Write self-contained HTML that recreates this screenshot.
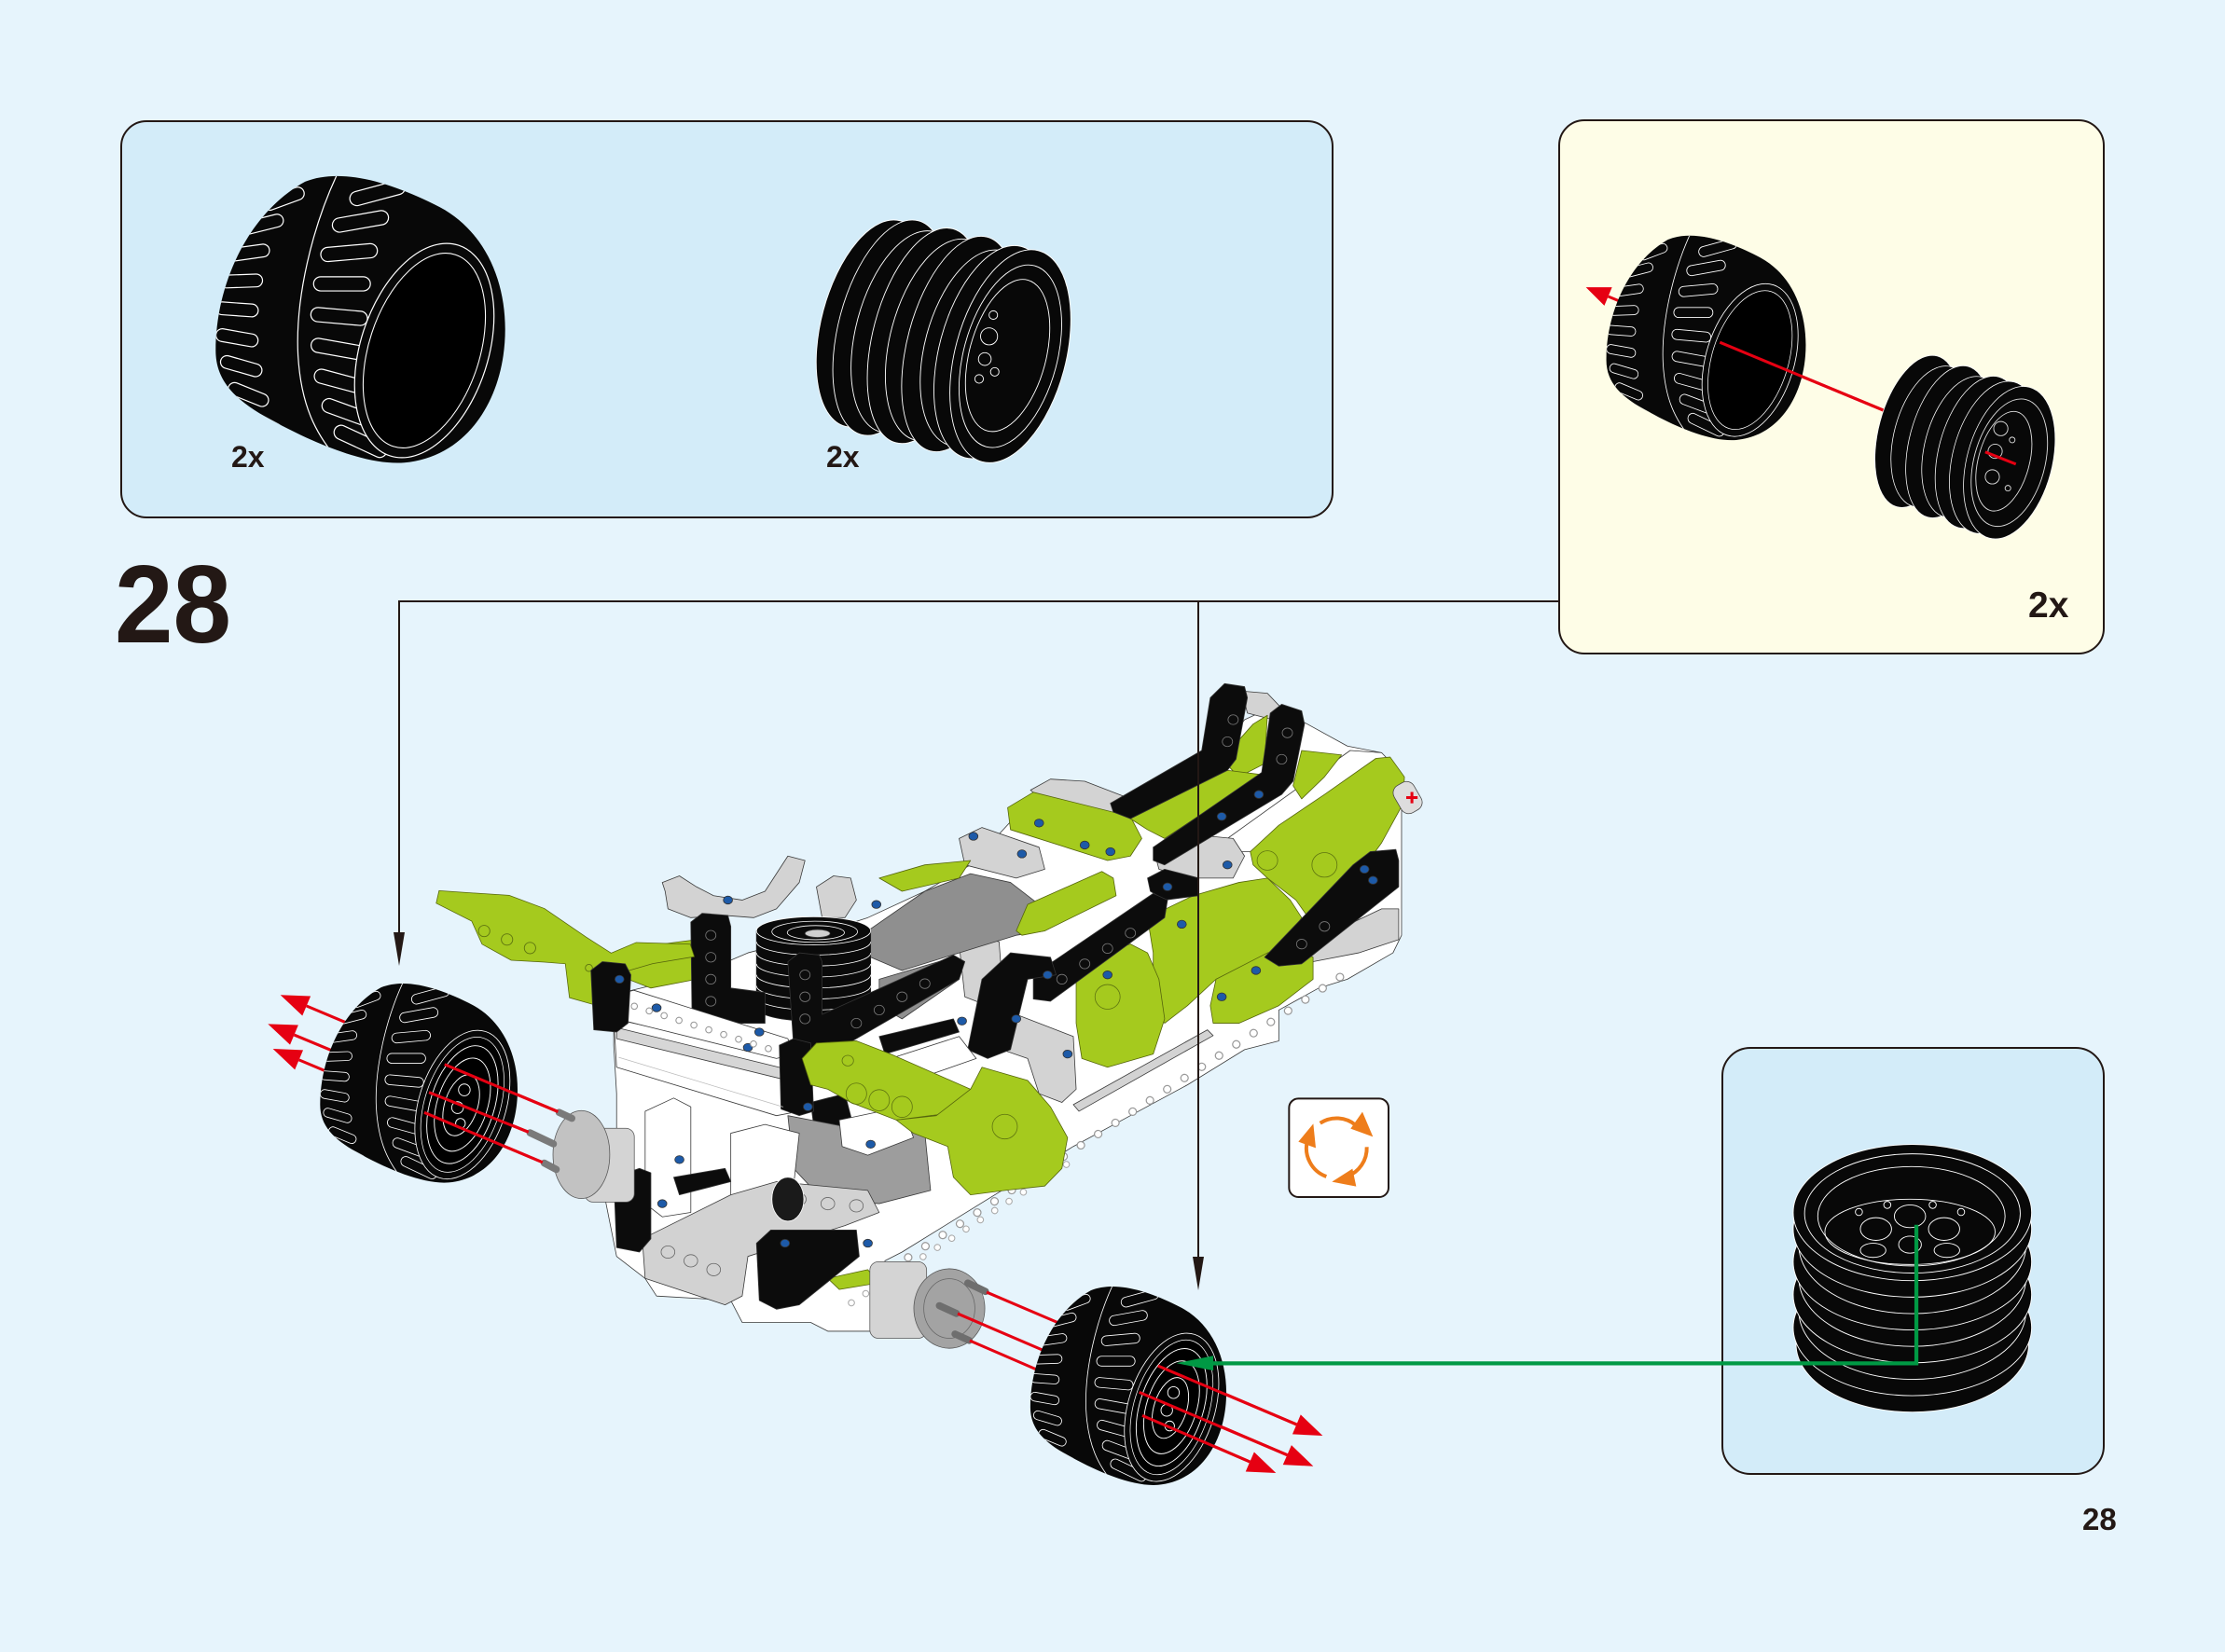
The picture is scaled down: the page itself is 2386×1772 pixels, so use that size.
<!DOCTYPE html>
<html><head><meta charset="utf-8"><title>Step 28</title>
<style>html,body{margin:0;padding:0;background:#E6F4FC;width:2386px;height:1772px;overflow:hidden}svg{display:block}.z *{vector-effect:non-scaling-stroke}</style>
</head><body>
<svg xmlns="http://www.w3.org/2000/svg" width="2386" height="1772" viewBox="0 0 2386 1772">
<defs>
<clipPath id="tc"><path d="M152,247 C152,200 175,150 215,128 C240,118 275,128 310,146 C340,162 356,195 356,232 C356,280 330,322 285,326 C260,328 225,314 195,298 C168,284 152,270 152,247 Z"/></clipPath>
<g id="tyre">
<path d="M152,247 C152,200 175,150 215,128 C240,118 275,128 310,146 C340,162 356,195 356,232 C356,280 330,322 285,326 C260,328 225,314 195,298 C168,284 152,270 152,247 Z" fill="#080808"/>
<g clip-path="url(#tc)" fill="none" stroke="#fff" stroke-width="0.8">
<rect x="185" y="135.5" width="30" height="9" rx="4.5" transform="rotate(-20 200 140)"/>
<rect x="170" y="153.5" width="30" height="9" rx="4.5" transform="rotate(-14 185 158)"/>
<rect x="160" y="173.5" width="30" height="9" rx="4.5" transform="rotate(-8 175 178)"/>
<rect x="155" y="193.5" width="30" height="9" rx="4.5" transform="rotate(-2 170 198)"/>
<rect x="152" y="213.5" width="30" height="9" rx="4.5" transform="rotate(4 167 218)"/>
<rect x="152" y="233.5" width="30" height="9" rx="4.5" transform="rotate(10 167 238)"/>
<rect x="155" y="253.5" width="30" height="9" rx="4.5" transform="rotate(16 170 258)"/>
<rect x="160" y="273.5" width="30" height="9" rx="4.5" transform="rotate(22 175 278)"/>
<rect x="170" y="293.5" width="30" height="9" rx="4.5" transform="rotate(28 185 298)"/>
<rect x="185" y="310.5" width="30" height="9" rx="4.5" transform="rotate(34 200 315)"/>
<rect x="246" y="131" width="40" height="10" rx="5" transform="rotate(-15 266 136)"/>
<rect x="234" y="151" width="40" height="10" rx="5" transform="rotate(-10 254 156)"/>
<rect x="226" y="173" width="40" height="10" rx="5" transform="rotate(-5 246 178)"/>
<rect x="221" y="195" width="40" height="10" rx="5"/>
<rect x="219" y="218" width="40" height="10" rx="5" transform="rotate(5 239 223)"/>
<rect x="219" y="241" width="40" height="10" rx="5" transform="rotate(10 239 246)"/>
<rect x="221" y="264" width="40" height="10" rx="5" transform="rotate(15 241 269)"/>
<rect x="226" y="286" width="40" height="10" rx="5" transform="rotate(20 246 291)"/>
<rect x="234" y="306" width="40" height="10" rx="5" transform="rotate(25 254 311)"/>
<path d="M238,122 C220,160 208,210 210,250 C212,285 222,306 240,326"/>
</g>
<ellipse cx="299" cy="247" rx="45" ry="78" transform="rotate(18 299 247)" fill="#080808" stroke="#fff" stroke-width="0.8"/>
<ellipse cx="299" cy="247" rx="39" ry="71" transform="rotate(18 299 247)" fill="#000" stroke="#fff" stroke-width="0.7"/>
</g>
<g id="rimface" fill="none" stroke="#fff" stroke-width="0.9">
<ellipse cx="299" cy="247" rx="33" ry="62" transform="rotate(18 299 247)"/>
<ellipse cx="299" cy="247" rx="26" ry="49" transform="rotate(18 299 247)"/>
<ellipse cx="298" cy="248" rx="17" ry="32" transform="rotate(18 299 247)"/>
<circle cx="301" cy="232" r="6"/><circle cx="294" cy="250" r="6"/><circle cx="297" cy="266" r="5"/>
</g>
</defs>

<rect width="2386" height="1772" fill="#E6F4FC"/>
<rect x="130" y="130" width="1299" height="425" rx="27" fill="#D3ECF9" stroke="#231815" stroke-width="2"/>
<rect x="1672" y="129" width="584" height="572" rx="27" fill="#FEFDE7" stroke="#231815" stroke-width="2"/>
<rect x="1847" y="1124" width="409" height="457" rx="30" fill="#D3ECF9" stroke="#231815" stroke-width="2"/>

<g transform="scale(1.5217,1.5223)">
<!-- Box 1 tyre -->
<use href="#tyre"/>
<!-- Box 1 rim stack -->
<g fill="#080808" stroke="#fff" stroke-width="0.6">
<ellipse cx="615" cy="228" rx="36" ry="75" transform="rotate(15 615 228)"/>
<ellipse cx="627.1" cy="230.9" rx="36" ry="78" transform="rotate(15 627.1 230.9)"/>
<ellipse cx="639.3" cy="233.8" rx="36" ry="73" transform="rotate(15 639.3 233.8)"/>
<ellipse cx="651.4" cy="236.6" rx="36" ry="78" transform="rotate(15 651.4 236.6)"/>
<ellipse cx="663.5" cy="239.5" rx="36" ry="73" transform="rotate(15 663.5 239.5)"/>
<ellipse cx="675.6" cy="242.4" rx="36" ry="78" transform="rotate(15 675.6 242.4)"/>
<ellipse cx="687.8" cy="245.3" rx="36" ry="71" transform="rotate(15 687.8 245.3)"/>
<ellipse cx="699.9" cy="248.1" rx="38" ry="77" transform="rotate(15 699.9 248.1)"/>
<ellipse cx="712" cy="251" rx="39" ry="77" transform="rotate(15 712 251)"/>
</g>
<g fill="none" stroke="#fff" stroke-width="0.6">
<ellipse cx="712" cy="251" rx="33" ry="66" transform="rotate(15 712 251)"/>
<ellipse cx="710" cy="251" rx="27" ry="55" transform="rotate(15 712 251)"/>
<circle cx="700" cy="222" r="3"/><circle cx="697" cy="237" r="6"/><circle cx="694" cy="253" r="4.5"/><circle cx="701" cy="262" r="3"/><circle cx="690" cy="267" r="3"/>
</g>

<!-- Yellow box -->
<line x1="1332.6" y1="291.3" x2="1133.3" y2="208.9" stroke="#E60012" stroke-width="2"/>
<use href="#tyre" transform="translate(1132,166) scale(0.689,0.713) translate(-152,-124)"/>
<line x1="1212" y1="241.2" x2="1332.6" y2="291.3" stroke="#E60012" stroke-width="2"/>
<polygon points="1117.6,202.4 1136,202.4 1130.6,215.4" fill="#E60012"/>
<g fill="#080808" stroke="#fff" stroke-width="0.5">
<ellipse cx="1351" cy="304" rx="27" ry="55" transform="rotate(15 1351 304)"/>
<ellipse cx="1361.8" cy="307.7" rx="27" ry="51" transform="rotate(15 1361.8 307.7)"/>
<ellipse cx="1372.7" cy="311.3" rx="27" ry="55" transform="rotate(15 1372.7 311.3)"/>
<ellipse cx="1383.5" cy="315" rx="27" ry="51" transform="rotate(15 1383.5 315)"/>
<ellipse cx="1394.3" cy="318.7" rx="28" ry="55" transform="rotate(15 1394.3 318.7)"/>
<ellipse cx="1405.2" cy="322.3" rx="29" ry="55" transform="rotate(15 1405.2 322.3)"/>
<ellipse cx="1416" cy="326" rx="30" ry="55" transform="rotate(15 1416 326)"/>
</g>
<g fill="none" stroke="#ddd" stroke-width="0.6">
<ellipse cx="1416" cy="326" rx="25" ry="46" transform="rotate(15 1416 326)"/>
<ellipse cx="1412" cy="326" rx="18" ry="36" transform="rotate(15 1416 326)"/>
<circle cx="1410" cy="302" r="5"/><circle cx="1406" cy="318" r="5"/><circle cx="1404" cy="336" r="5"/><circle cx="1418" cy="310" r="2"/><circle cx="1415" cy="344" r="2"/>
</g>
<line x1="1399" y1="318.5" x2="1420.6" y2="327" stroke="#E60012" stroke-width="2"/>

<!-- Box 3 stack -->
<g fill="#080808" stroke="#fff" stroke-width="0.6">
<ellipse cx="1347.7" cy="947" rx="82" ry="48"/>
<ellipse cx="1347.7" cy="935.4" rx="84" ry="48"/>
<ellipse cx="1347.7" cy="923.9" rx="80" ry="48"/>
<ellipse cx="1347.7" cy="912.3" rx="84" ry="48"/>
<ellipse cx="1347.7" cy="900.7" rx="80" ry="48"/>
<ellipse cx="1347.7" cy="889.1" rx="84" ry="48"/>
<ellipse cx="1347.7" cy="877.6" rx="80" ry="48"/>
<ellipse cx="1347.7" cy="866" rx="84" ry="48"/>
<ellipse cx="1347.7" cy="854.4" rx="84" ry="48"/>
</g>
<g fill="none" stroke="#fff" stroke-width="0.6">
<ellipse cx="1347.7" cy="855" rx="76" ry="42"/>
<ellipse cx="1347" cy="857" rx="66" ry="35"/>
<ellipse cx="1346" cy="868" rx="60" ry="23"/>
<ellipse cx="1322" cy="866" rx="11" ry="8"/><ellipse cx="1346" cy="857" rx="11" ry="8"/><ellipse cx="1370" cy="866" rx="11" ry="8"/>
<ellipse cx="1346" cy="877" rx="8" ry="6"/><ellipse cx="1320" cy="881" rx="9" ry="5"/><ellipse cx="1372" cy="881" rx="9" ry="5"/>
<circle cx="1310" cy="854" r="2.5"/><circle cx="1330" cy="849" r="2.5"/><circle cx="1362" cy="849" r="2.5"/><circle cx="1382" cy="854" r="2.5"/>
</g>

<!-- ===== Main assembly (back layer, zoom coords) ===== -->
<g class="z" transform="translate(394.3,473) scale(0.4023,0.31)" stroke-linejoin="round" stroke="#3a3a3a" stroke-width="0.8">
<polygon fill="#fff" points="95,735 240,690 330,640 420,610 540,560 640,500 720,440 820,300 870,255 960,290 1000,330 1130,230 1160,180 1200,110 1250,80 1310,120 1380,170 1440,185 1475,260 1475,600 1460,640 1380,700 1330,720 1260,770 1260,840 1200,860 1100,940 1000,1010 900,1080 800,1160 700,1240 600,1320 570,1340 560,1500 470,1500 440,1480 320,1480 300,1430 170,1420 150,1380 100,1330 80,1200 100,1100 100,960 95,850"/>
<polygon fill="#fff" points="1170,380 1385,180 1440,185 1455,205 1300,330 1210,410 1180,410"/>
<!-- light grays -->
<g fill="#d3d3d3">
<polygon points="180,480 210,465 240,490 270,510 320,520 360,500 400,420 430,430 420,480 380,540 340,560 290,555 230,560 190,540 185,500"/>
<polygon points="450,490 480,465 510,470 520,520 500,560 460,560"/>
<polygon points="700,380 740,355 840,400 850,450 800,470 710,440"/>
<polygon points="825,270 860,245 920,250 1000,290 1010,330 960,340 870,320"/>
<polygon points="1040,400 1100,370 1180,380 1200,420 1180,470 1100,470 1050,450"/>
<polygon points="700,620 730,600 770,615 775,700 750,760 710,740"/>
<polygon points="770,800 800,780 900,830 905,950 880,980 840,960 820,880 775,860"/>
<polygon points="1310,620 1440,540 1470,540 1470,610 1400,640 1320,660"/>
<polygon points="900,985 1135,815 1145,828 910,1000"/>
<polygon points="1195,45 1240,50 1262,80 1250,110 1205,95"/>
</g>
<!-- dark gray -->
<g fill="#8f8f8f">
<polygon points="540,590 640,500 720,460 790,480 850,540 850,590 800,600 700,640 600,680 545,650"/>
<polygon points="560,700 690,650 700,700 600,790 560,760"/>
</g>
<!-- limes -->
<g fill="#A5CA1E" stroke="#55650c">
<polygon points="785,310 830,275 1000,330 1020,380 1000,420 960,430 790,360"/>
<polygon points="800,590 820,530 950,455 970,470 975,510 850,590 810,600"/>
<polygon points="560,470 640,440 720,430 700,470 600,500"/>
<polygon points="1160,200 1215,120 1240,100 1235,210 1190,240"/>
<polygon points="1000,335 1170,225 1230,235 1060,380 1030,360"/>
<polygon points="1285,260 1300,180 1370,190 1340,240 1300,290"/>
<polygon points="1210,410 1260,350 1340,280 1430,198 1455,195 1480,240 1478,300 1440,390 1395,470 1385,560 1320,575 1290,520 1240,470 1215,440"/>
<polygon points="1030,560 1110,510 1190,480 1240,470 1280,520 1300,560 1280,600 1240,650 1150,700 1100,760 1060,800 1040,760 1040,640"/>
<polygon points="905,680 950,640 1000,620 1030,640 1050,700 1060,790 1040,870 960,900 915,880 905,800"/>
<polygon points="1140,760 1150,700 1240,640 1290,630 1320,650 1320,700 1260,760 1190,800 1145,800"/>
<polygon points="120,640 180,620 240,610 240,700 160,720 120,700"/>
<polygon points="470,1380 540,1360 560,1390 490,1405"/>
</g>
<g fill="none" stroke="#5e7410">
<ellipse cx="1340" cy="440" rx="22" ry="28"/><ellipse cx="960" cy="740" rx="22" ry="28"/><ellipse cx="1240" cy="430" rx="18" ry="22"/>
</g>
<!-- blacks -->
<g fill="#0c0c0c" stroke="#333">
<polygon points="965,300 1125,180 1140,60 1165,28 1200,35 1205,60 1185,200 1170,225 1000,335 970,320"/>
<polygon points="1040,400 1230,230 1245,95 1265,75 1300,90 1305,120 1285,250 1265,280 1060,440 1040,430"/>
<polygon points="1030,470 1060,450 1120,470 1120,510 1060,520 1035,500"/>
<polygon points="1235,650 1390,440 1420,410 1465,405 1470,430 1470,490 1300,665 1260,670"/>
<polygon points="830,690 1040,505 1065,520 1060,560 860,750 830,745"/>
<polygon points="715,860 740,700 790,640 860,650 870,690 820,700 790,860 750,880"/>
<polygon points="560,830 690,790 700,820 570,870"/>
<polygon points="440,980 500,960 520,1060 480,1060 445,1030"/>
</g>
<g fill="none" stroke="#777">
<ellipse cx="1180" cy="110" rx="9" ry="11"/><ellipse cx="1170" cy="160" rx="9" ry="11"/><ellipse cx="1275" cy="140" rx="9" ry="11"/><ellipse cx="1265" cy="200" rx="9" ry="11"/>
<ellipse cx="880" cy="700" rx="9" ry="11"/><ellipse cx="920" cy="665" rx="9" ry="11"/><ellipse cx="960" cy="630" rx="9" ry="11"/><ellipse cx="1000" cy="595" rx="9" ry="11"/>
<ellipse cx="1300" cy="620" rx="9" ry="11"/><ellipse cx="1340" cy="580" rx="9" ry="11"/>
</g>
<polygon fill="#fff" points="580,880 700,830 730,880 620,930"/>
<!-- spring -->
<path d="M345,590 V765 A100,30 0 0 0 545,765 V590 Z" fill="#0a0a0a" stroke="#222"/>
<g fill="none" stroke="#fff">
<path d="M345,615 A100,30 0 0 0 545,615"/>
<path d="M345,640 A100,30 0 0 0 545,640"/>
<path d="M345,665 A100,30 0 0 0 545,665"/>
<path d="M345,690 A100,30 0 0 0 545,690"/>
<path d="M345,715 A100,30 0 0 0 545,715"/>
<path d="M345,740 A100,30 0 0 0 545,740"/>
</g>
<ellipse cx="445" cy="590" rx="100" ry="32" fill="#0a0a0a" stroke="#fff"/>
<ellipse cx="447" cy="592" rx="75" ry="24" fill="none" stroke="#fff"/>
<ellipse cx="449" cy="594" rx="50" ry="16" fill="none" stroke="#fff"/>
<ellipse cx="452" cy="596" rx="22" ry="9" fill="#cfcfcf"/>
<!-- L1, L2 -->
<g fill="#0c0c0c" stroke="#333">
<polygon points="230,570 250,550 295,555 300,580 300,720 360,730 360,800 300,800 250,790 232,770"/>
<polygon points="400,660 420,640 455,645 460,660 460,780 690,645 710,660 700,700 500,850 460,860 410,850"/>
</g>
<g fill="none" stroke="#777">
<ellipse cx="265" cy="600" rx="9" ry="11"/><ellipse cx="265" cy="650" rx="9" ry="11"/><ellipse cx="265" cy="700" rx="9" ry="11"/><ellipse cx="265" cy="750" rx="9" ry="11"/>
<ellipse cx="430" cy="690" rx="9" ry="11"/><ellipse cx="430" cy="740" rx="9" ry="11"/><ellipse cx="430" cy="790" rx="9" ry="11"/>
<ellipse cx="520" cy="800" rx="9" ry="11"/><ellipse cx="560" cy="770" rx="9" ry="11"/><ellipse cx="600" cy="740" rx="9" ry="11"/><ellipse cx="640" cy="710" rx="9" ry="11"/>
</g>
</g>

<!-- red-tipped piece at far right -->
<rect x="984" y="551" width="16" height="22" rx="6" transform="rotate(-30 992 562)" fill="#ddd" stroke="#444" stroke-width="0.5"/>
<path d="M991,562 h8 M995,558 v8" stroke="#E60012" stroke-width="2"/>

<!-- long white beam holes -->
<line x1="640" y1="886" x2="945" y2="688" stroke="#999" stroke-width="6" stroke-dasharray="0.01 14.5" stroke-linecap="round"/>
<line x1="640" y1="886" x2="945" y2="688" stroke="#fff" stroke-width="4.4" stroke-dasharray="0.01 14.5" stroke-linecap="round"/>
<line x1="600" y1="918" x2="760" y2="815" stroke="#aaa" stroke-width="5" stroke-dasharray="0.01 12" stroke-linecap="round"/>
<line x1="600" y1="918" x2="760" y2="815" stroke="#fff" stroke-width="3.6" stroke-dasharray="0.01 12" stroke-linecap="round"/>

<!-- lime arm -->
<polygon points="309.4,627.6 358.8,630.9 383.7,640.2 413.1,660.3 430.7,671.6 448.3,664.1 486.4,665.3 489.3,674.1 460,679 424.8,689.2 418.9,708 401.3,703 398.4,679.1 383.7,677.9 360.2,676.6 339.7,665.3 332.4,649 307.4,636.4" fill="#A5CA1E" stroke="#55650c" stroke-width="0.5"/>
<g fill="none" stroke="#5e7410" stroke-width="0.6">
<circle cx="341.2" cy="656" r="4"/><circle cx="357.3" cy="662" r="4"/><circle cx="373.5" cy="668" r="4"/><circle cx="415" cy="682" r="2.5"/>
</g>

<!-- ===== Main assembly (front layer, zoom coords) ===== -->
<g class="z" transform="translate(394.3,473) scale(0.4023,0.31)" stroke-linejoin="round" stroke="#3a3a3a" stroke-width="0.8">
<polygon fill="#fff" points="95,790 410,880 420,1000 380,1010 100,900"/>
<polygon fill="#d6d6d6" points="100,810 400,905 400,930 100,835"/>
<polygon fill="#fff" points="100,735 130,725 400,835 410,870 380,880 100,790"/>
<g fill="#0c0c0c" stroke="#333">
<polygon points="55,680 75,660 115,665 125,690 120,800 100,820 60,815"/>
<polygon points="385,850 410,835 440,845 445,1000 420,1010 388,995"/>
</g>
<polygon fill="#9d9d9d" points="400,1010 520,1040 640,1050 650,1180 560,1210 460,1200 410,1130"/>
<polygon fill="#fff" points="490,1020 600,990 620,1060 540,1100 495,1080"/>
<g fill="#A5CA1E" stroke="#55650c">
<polygon points="425,880 450,845 520,840 580,870 720,950 715,1000 650,1010 590,1020 510,980 470,950 440,940"/>
<polygon points="590,1020 660,1010 720,950 740,900 820,930 860,990 890,1060 880,1130 850,1170 780,1180 720,1190 690,1150 680,1080 620,1050"/>
</g>
<g fill="none" stroke="#5e7410">
<ellipse cx="520" cy="960" rx="18" ry="24"/><ellipse cx="560" cy="975" rx="18" ry="24"/><ellipse cx="600" cy="990" rx="18" ry="24"/><ellipse cx="780" cy="1035" rx="22" ry="28"/><ellipse cx="505" cy="885" rx="10" ry="12"/>
</g>
<g fill="#fff">
<polygon points="150,1000 200,970 230,990 230,1230 180,1240 150,1210"/>
<polygon points="300,1050 360,1030 420,1050 400,1290 330,1300 300,1280"/>
</g>
<polygon fill="#d2d2d2" points="145,1290 300,1190 380,1160 540,1180 560,1230 500,1260 330,1330 320,1420 290,1440 150,1380"/>
<g fill="none" stroke="#666">
<ellipse cx="190" cy="1320" rx="12" ry="14"/><ellipse cx="230" cy="1340" rx="12" ry="14"/><ellipse cx="270" cy="1360" rx="12" ry="14"/>
<ellipse cx="420" cy="1200" rx="12" ry="14"/><ellipse cx="470" cy="1210" rx="12" ry="14"/><ellipse cx="520" cy="1215" rx="12" ry="14"/>
</g>
<g fill="#0c0c0c" stroke="#333">
<polygon points="95,1150 140,1130 160,1140 160,1290 140,1320 100,1310"/>
<polygon points="200,1150 290,1130 300,1160 210,1190"/>
<polygon points="345,1300 370,1270 520,1270 525,1330 420,1440 380,1450 350,1430"/>
</g>
<ellipse cx="400" cy="1200" rx="28" ry="50" fill="#1a1a1a" stroke="#fff"/>
<g fill="#1d5aa8" stroke="#333">
<ellipse cx="840" cy="345" rx="8" ry="9"/><ellipse cx="920" cy="395" rx="8" ry="9"/><ellipse cx="965" cy="410" rx="8" ry="9"/>
<ellipse cx="725" cy="375" rx="8" ry="9"/><ellipse cx="810" cy="415" rx="8" ry="9"/><ellipse cx="295" cy="520" rx="8" ry="9"/>
<ellipse cx="555" cy="530" rx="8" ry="9"/><ellipse cx="1065" cy="490" rx="8" ry="9"/><ellipse cx="1170" cy="440" rx="8" ry="9"/>
<ellipse cx="1225" cy="280" rx="8" ry="9"/><ellipse cx="1160" cy="330" rx="8" ry="9"/><ellipse cx="1090" cy="575" rx="8" ry="9"/>
<ellipse cx="960" cy="690" rx="8" ry="9"/><ellipse cx="855" cy="690" rx="8" ry="9"/><ellipse cx="1410" cy="450" rx="8" ry="9"/>
<ellipse cx="1425" cy="475" rx="8" ry="9"/><ellipse cx="1220" cy="680" rx="8" ry="9"/><ellipse cx="1160" cy="740" rx="8" ry="9"/>
<ellipse cx="170" cy="765" rx="8" ry="9"/><ellipse cx="350" cy="820" rx="8" ry="9"/><ellipse cx="330" cy="855" rx="8" ry="9"/>
<ellipse cx="105" cy="700" rx="8" ry="9"/><ellipse cx="435" cy="990" rx="8" ry="9"/><ellipse cx="545" cy="1075" rx="8" ry="9"/>
<ellipse cx="890" cy="870" rx="8" ry="9"/><ellipse cx="800" cy="790" rx="8" ry="9"/><ellipse cx="705" cy="795" rx="8" ry="9"/>
<ellipse cx="210" cy="1110" rx="8" ry="9"/><ellipse cx="180" cy="1210" rx="8" ry="9"/><ellipse cx="395" cy="1300" rx="8" ry="9"/>
<ellipse cx="540" cy="1300" rx="8" ry="9"/>
</g>
</g>

<!-- front white beam holes -->
<line x1="447" y1="709" x2="545" y2="740" stroke="#999" stroke-width="5" stroke-dasharray="0.01 11" stroke-linecap="round"/>
<line x1="447" y1="709" x2="545" y2="740" stroke="#fff" stroke-width="3.6" stroke-dasharray="0.01 11" stroke-linecap="round"/>
<line x1="436" y1="745" x2="552" y2="780" stroke="#bbb" stroke-width="0.5"/>

<!-- hubs -->
<rect x="412" y="795" width="35" height="52" rx="6" fill="#d4d4d4" stroke="#555" stroke-width="0.5"/>
<ellipse cx="409.7" cy="813.5" rx="20" ry="31" fill="#c2c2c2" stroke="#555" stroke-width="0.5"/>
<g stroke="#7a7a7a" stroke-width="5" stroke-linecap="round">
<line x1="403" y1="788" x2="394" y2="783.8"/>
<line x1="390" y1="806" x2="373.5" y2="798.2"/>
<line x1="392" y1="824" x2="383.5" y2="819.5"/>
</g>
<rect x="613" y="889" width="40" height="54" rx="6" fill="#d4d4d4" stroke="#555" stroke-width="0.5"/>
<ellipse cx="669" cy="922" rx="25" ry="28" fill="#a3a3a3" stroke="#555" stroke-width="0.5"/>
<ellipse cx="669" cy="922" rx="18" ry="21" fill="none" stroke="#666" stroke-width="0.5"/>
<g stroke="#6e6e6e" stroke-width="5" stroke-linecap="round">
<line x1="682" y1="904" x2="694.5" y2="910"/>
<line x1="662" y1="920" x2="674" y2="925.5"/>
<line x1="673" y1="940" x2="683" y2="944.5"/>
</g>

<!-- red lines under wheels -->
<g stroke="#E60012" stroke-width="2">
<line x1="393.2" y1="783.3" x2="216" y2="708.8"/>
<line x1="372.4" y1="797.7" x2="207.3" y2="729.2"/>
<line x1="382.3" y1="819" x2="210.7" y2="746.8"/>
<line x1="695.3" y1="910.5" x2="913.7" y2="1003.7"/>
<line x1="674.9" y1="925.6" x2="907.1" y2="1025.2"/>
<line x1="683.4" y1="944.6" x2="880.8" y2="1030"/>
</g>
<!-- main wheels -->
<use href="#tyre" transform="translate(225.6,693) scale(0.682,0.694) translate(-152,-124)"/>
<use href="#rimface" transform="translate(225.6,693) scale(0.682,0.694) translate(-152,-124)"/>
<use href="#tyre" transform="translate(726.1,906.5) scale(0.677,0.692) translate(-152,-124)"/>
<use href="#rimface" transform="translate(726.1,906.5) scale(0.677,0.692) translate(-152,-124)"/>
<!-- red on top -->
<g stroke="#E60012" stroke-width="2">
<line x1="393.2" y1="783.3" x2="313.3" y2="750"/>
<line x1="372.4" y1="797.7" x2="302.3" y2="769.7"/>
<line x1="382.3" y1="819" x2="299" y2="783.9"/>
<line x1="816" y1="962.4" x2="913.7" y2="1003.7"/>
<line x1="802.8" y1="981" x2="907.1" y2="1025.2"/>
<line x1="805" y1="997.4" x2="880.8" y2="1030"/>
</g>
<g fill="#E60012">
<polygon points="197.6,701.1 218.9,701.9 213.1,715.7"/>
<polygon points="188.8,721.5 210.2,722.3 204.4,736.1"/>
<polygon points="192.3,739 213.6,739.9 207.8,753.7"/>
<polygon points="932.1,1011.6 910.8,1010.6 916.6,996.8"/>
<polygon points="925.5,1033.1 904.1,1032.1 910.1,1018.3"/>
<polygon points="899.2,1037.9 877.8,1036.9 883.8,1023.1"/>
</g>
</g>

<!-- connectors (actual coords) -->
<path d="M1672,645 H428 V1003" stroke="#231815" stroke-width="2" fill="none"/>
<line x1="1285" y1="645" x2="1285" y2="1350" stroke="#231815" stroke-width="2"/>
<polygon points="428,1036 422,1000 434,1000" fill="#231815"/>
<polygon points="1285,1384 1279,1348 1291,1348" fill="#231815"/>

<!-- green arrow -->
<g transform="scale(1.5217,1.5223)">
<path d="M1350.5,863 V960.6 H853" stroke="#009944" stroke-width="2.8" fill="none"/>
<polygon points="829,960.5 855,955.3 855,965.7" fill="#009944"/>
</g>

<!-- rotate icon -->
<g transform="translate(1375,1170) scale(0.33333)">
<rect x="22" y="25" width="320" height="317" rx="30" fill="#fff" stroke="#231815" stroke-width="6"/>
<g fill="none" stroke="#EE7D1B" stroke-width="12">
<path d="M122,104 A97,97 0 0 1 237,111"/>
<path d="M272,181 A97,97 0 0 1 208,276"/>
<path d="M142,276 A97,97 0 0 1 81,160"/>
</g>
<g fill="#EE7D1B">
<polygon points="292,148 258,68 220,122"/>
<polygon points="160,293 226,251 238,308"/>
<polygon points="100,106 52,164 108,184"/>
</g>
</g>

<!-- texts -->
<g font-family="'Liberation Sans', Arial, sans-serif" font-weight="bold" fill="#231815">
<text x="248" y="501" font-size="32">2x</text>
<text x="886" y="501" font-size="32">2x</text>
<text x="2175" y="662" font-size="39">2x</text>
<text x="123" y="689" font-size="119" textLength="125" lengthAdjust="spacingAndGlyphs">28</text>
<text x="2233" y="1641" font-size="33">28</text>
</g>
</svg>
</body></html>
